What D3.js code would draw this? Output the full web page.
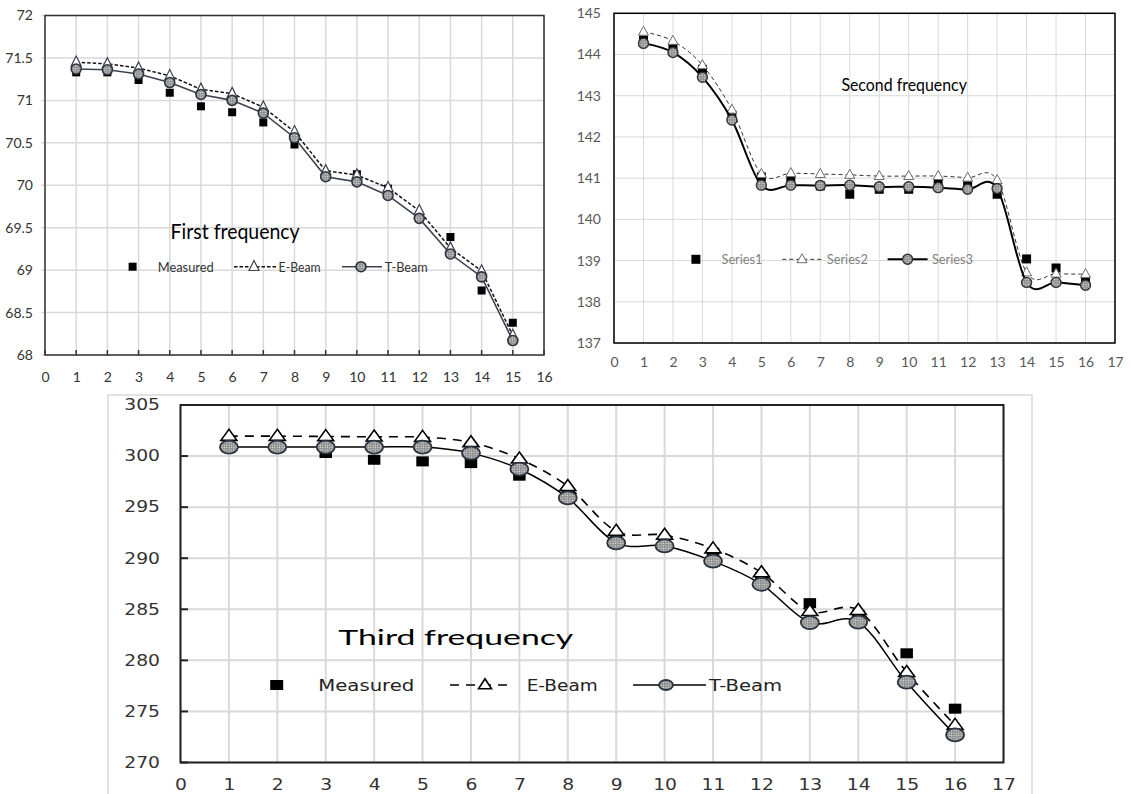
<!DOCTYPE html>
<html><head><meta charset="utf-8">
<script src="https://cdn.jsdelivr.net/npm/d3@7"></script>
<style>body{margin:0;background:#fff}</style>
</head><body>
<svg id="c" width="1131" height="794"></svg>
<script>
// ---------- DATA ----------
const first_x = [1,2,3,4,5,6,7,8,9,10,11,12,13,14,15];
const first_measured = [71.33,71.33,71.24,71.09,70.93,70.86,70.74,70.48,70.13,70.13,69.96,69.65,69.39,68.76,68.38];
const first_ebeam    = [71.45,71.43,71.38,71.29,71.13,71.08,70.92,70.63,70.17,70.12,69.97,69.70,69.26,68.99,68.23];
const first_tbeam    = [71.37,71.36,71.31,71.21,71.07,71.00,70.85,70.56,70.10,70.04,69.88,69.61,69.19,68.92,68.17];
const first_xticks = [0,1,2,3,4,5,6,7,8,9,10,11,12,13,14,15,16];
const first_yticks = [68,68.5,69,69.5,70,70.5,71,71.5,72];
const first_labels = ["Measured","E-Beam","T-Beam"];

const second_x = [1,2,3,4,5,6,7,8,9,10,11,12,13,14,15,16];
const second_series1 = [144.35,144.15,143.64,142.53,141.03,140.93,140.81,140.61,140.73,140.73,140.85,140.83,140.61,139.04,138.82,138.53];
const second_series2 = [144.55,144.33,143.74,142.66,141.10,141.12,141.10,141.08,141.05,141.05,141.05,141.01,140.95,138.71,138.68,138.67];
const second_series3 = [144.27,144.05,143.45,142.41,140.83,140.83,140.82,140.83,140.79,140.79,140.77,140.73,140.75,138.47,138.47,138.40];
const second_xticks = [0,1,2,3,4,5,6,7,8,9,10,11,12,13,14,15,16,17];
const second_yticks = [137,138,139,140,141,142,143,144,145];
const second_labels = ["Series1","Series2","Series3"];

const third_x = [1,2,3,4,5,6,7,8,9,10,11,12,13,14,15,16];
const third_measured = [300.8,300.8,300.3,299.64,299.48,299.31,298.08,296.32,291.84,291.35,290.54,288.16,285.6,284.46,280.69,275.27];
const third_ebeam    = [301.95,301.95,301.92,301.88,301.85,301.33,299.73,297.04,292.65,292.26,290.93,288.59,284.8,284.9,278.83,273.65];
const third_tbeam    = [300.88,300.88,300.88,300.88,300.88,300.29,298.73,295.9,291.5,291.2,289.72,287.45,283.7,283.75,277.86,272.7];
const third_xticks = [0,1,2,3,4,5,6,7,8,9,10,11,12,13,14,15,16,17];
const third_yticks = [270,275,280,285,290,295,300,305];
const third_labels = ["Measured","E-Beam","T-Beam"];

// ---------- DRAWING ----------
const svg = d3.select("#c");
svg.append("rect").attr("width",1131).attr("height",794).attr("fill","#fff");

const defs = svg.append("defs");
const pat = defs.append("pattern").attr("id","hatch").attr("patternUnits","userSpaceOnUse")
  .attr("width",2.4).attr("height",2.4);
pat.append("rect").attr("width",2.4).attr("height",2.4).attr("fill","#8e8e8e");
pat.append("rect").attr("x",0.6).attr("y",0.6).attr("width",1.1).attr("height",1.1).attr("fill","#e6e6e6");

const CAL = "Lato, 'Open Sans', sans-serif";
const VER = "'DejaVu Sans', Verdana, sans-serif";

function triPath(w,h){ return `M0,${-h*0.62}L${w/2},${h*0.38}L${-w/2},${h*0.38}Z`; }

function panel(c){
  const g = svg.append("g");
  const x = d3.scaleLinear().domain(c.xdom).range(c.xr);
  const y = d3.scaleLinear().domain(c.ydom).range(c.yr);
  // grid
  g.append("g").selectAll("line").data(c.xticks).join("line")
    .attr("x1",d=>x(d)).attr("x2",d=>x(d)).attr("y1",c.yr[0]).attr("y2",c.yr[1])
    .attr("stroke",c.grid).attr("stroke-width",c.gridW);
  g.append("g").selectAll("line").data(c.yticks).join("line")
    .attr("x1",c.xr[0]-(c.ytickOut||0)).attr("x2",c.xr[1]).attr("y1",d=>y(d)).attr("y2",d=>y(d))
    .attr("stroke",c.grid).attr("stroke-width",c.gridW);
  // frame
  g.append("rect").attr("x",c.xr[0]).attr("y",c.yr[1]).attr("width",c.xr[1]-c.xr[0]).attr("height",c.yr[0]-c.yr[1])
    .attr("fill","none").attr("stroke",c.frame).attr("stroke-width",c.frameW);
  // inward ticks
  if(c.xtickIn){
    g.append("g").selectAll("line").data(c.xticks).join("line")
      .attr("x1",d=>x(d)).attr("x2",d=>x(d)).attr("y1",c.yr[0]).attr("y2",c.yr[0]-c.xtickIn)
      .attr("stroke",c.frame).attr("stroke-width",c.frameW);
  }
  if(c.ytickIn){
    g.append("g").selectAll("line").data(c.yticks).join("line")
      .attr("x1",c.xr[0]).attr("x2",c.xr[0]+c.ytickIn).attr("y1",d=>y(d)).attr("y2",d=>y(d))
      .attr("stroke",c.frame).attr("stroke-width",c.frameW);
  }
  // axes
  const ax = g.append("g").attr("transform",`translate(0,${c.yr[0]})`)
    .call(d3.axisBottom(x).tickValues(c.xticks).tickSize(0).tickPadding(c.xpad).tickFormat(d=>String(d)));
  const ay = g.append("g").attr("transform",`translate(${c.xr[0]},0)`)
    .call(d3.axisLeft(y).tickValues(c.yticks).tickSize(0).tickPadding(c.ypad).tickFormat(d=>String(d)));
  [ax,ay].forEach(a=>{
    a.select(".domain").remove();
    a.selectAll("text").attr("font-family",c.tickFont).attr("font-size",c.tickSize).attr("fill",c.tickColor);
    if(c.stretch) a.selectAll("text").attr("transform",`scale(${c.stretch},1)`);
  });
  const pts = (xs,ys)=>xs.map((d,i)=>[x(d),y(ys[i])]);
  const line = d3.line().curve(c.curve);
  // series 1: squares
  const s1 = pts(c.xs,c.s1);
  g.append("g").selectAll("rect").data(s1).join("rect")
    .attr("x",d=>d[0]-c.sq[0]/2).attr("y",d=>d[1]-c.sq[1]/2).attr("width",c.sq[0]).attr("height",c.sq[1]).attr("fill","#000");
  // series 2: dashed + triangles
  const s2 = pts(c.xs,c.s2);
  g.append("path").attr("d",line(s2)).attr("fill","none").attr("stroke",c.l2).attr("stroke-width",c.l2w).attr("stroke-dasharray",c.dash);
  g.append("g").selectAll("path").data(s2).join("path")
    .attr("d",triPath(c.tri[0],c.tri[1])).attr("transform",d=>`translate(${d[0]},${d[1]})`)
    .attr("fill","#fff").attr("stroke",c.triStroke).attr("stroke-width",c.triW);
  // series 3: solid + hatched circles
  const s3 = pts(c.xs,c.s3);
  g.append("path").attr("d",line(s3)).attr("fill","none").attr("stroke",c.l3).attr("stroke-width",c.l3w);
  g.append("g").selectAll("ellipse").data(s3).join("ellipse")
    .attr("cx",d=>d[0]).attr("cy",d=>d[1]).attr("rx",c.circ[0]).attr("ry",c.circ[1])
    .attr("fill","url(#hatch)").attr("stroke",c.circStroke).attr("stroke-width",c.circW);
  // title
  g.append("text").attr("x",c.title.x).attr("y",c.title.y).text(c.title.text)
    .attr("font-family",CAL).attr("font-size",c.title.size).attr("fill","#000")
    .attr("textLength",c.title.w).attr("lengthAdjust","spacingAndGlyphs");
  // legend
  const L = c.leg;
  const lsq = L.sq || c.sq, ltri = L.tri || c.tri, lcirc = L.circ || c.circ;
  g.append("rect").attr("x",L.sqx-lsq[0]/2).attr("y",L.y-lsq[1]/2).attr("width",lsq[0]).attr("height",lsq[1]).attr("fill","#000");
  g.append("line").attr("x1",L.l2[0]).attr("x2",L.l2[1]).attr("y1",L.y).attr("y2",L.y)
    .attr("stroke",c.l2).attr("stroke-width",c.l2w).attr("stroke-dasharray",c.dash);
  g.append("path").attr("d",triPath(ltri[0],ltri[1])).attr("transform",`translate(${L.l2m},${L.y})`)
    .attr("fill","#fff").attr("stroke",c.triStroke).attr("stroke-width",c.triW);
  g.append("line").attr("x1",L.l3[0]).attr("x2",L.l3[1]).attr("y1",L.y).attr("y2",L.y)
    .attr("stroke",c.l3).attr("stroke-width",c.l3w);
  g.append("ellipse").attr("cx",L.l3m).attr("cy",L.y).attr("rx",lcirc[0]).attr("ry",lcirc[1])
    .attr("fill","url(#hatch)").attr("stroke",c.circStroke).attr("stroke-width",c.circW);
  L.texts.forEach((t,i)=>{
    g.append("text").attr("x",t[0]).attr("y",L.y+L.base).text(c.labels[i])
      .attr("font-family",L.font).attr("font-size",L.size).attr("fill",L.color)
      .attr("textLength",t[1]).attr("lengthAdjust","spacingAndGlyphs");
  });
}

// outer light border of the third chart
svg.append("rect").attr("x",108).attr("y",395).attr("width",924).attr("height",430)
  .attr("fill","none").attr("stroke","#d9d9d9").attr("stroke-width",1.5);

panel({
  xs:first_x, s1:first_measured, s2:first_ebeam, s3:first_tbeam, labels:first_labels,
  xdom:[0,16], ydom:[68,72], xr:[45,544], yr:[355,15.5],
  xticks:first_xticks, yticks:first_yticks,
  grid:"#d9d9d9", gridW:1.5, frame:"#333", frameW:1.5, xtickIn:5, ytickOut:4,
  xpad:16.8, ypad:12, tickFont:CAL, tickSize:14, tickColor:"#333",
  curve:d3.curveLinear,
  sq:[8,8], tri:[10,10], triStroke:"#3c4350", triW:1.2, circ:[5,5], circStroke:"#2e3540", circW:1.6,
  l2:"#111", l2w:1.5, dash:"3.5,2", l3:"#3c4350", l3w:1.6,
  title:{text:"First frequency", x:170.6, y:239, size:21, w:129},
  leg:{y:266.7, base:4.8, sqx:132.6, l2:[234,277], l2m:254, l3:[342,382], l3m:361,
       texts:[[157.7,56],[278.6,42],[384.8,43]], font:CAL, size:14, color:"#333"}
});

panel({
  xs:second_x, s1:second_series1, s2:second_series2, s3:second_series3, labels:second_labels,
  xdom:[0,17], ydom:[137,145], xr:[614,1115], yr:[343,13.3],
  xticks:second_xticks, yticks:second_yticks,
  grid:"#d9d9d9", gridW:1, frame:"#000", frameW:1.5,
  xpad:13.8, ypad:13, tickFont:CAL, tickSize:14, tickColor:"#595959",
  curve:d3.curveCatmullRom.alpha(0),
  sq:[9,9], tri:[10,9], triStroke:"#6b6b6b", triW:1, circ:[5,5], circStroke:"#333", circW:1.4,
  l2:"#333", l2w:1, dash:"4,3", l3:"#000", l3w:2,
  title:{text:"Second frequency", x:841.4, y:90.7, size:16.5, w:125.5},
  leg:{y:259.3, base:4.5, sqx:695.9, l2:[782.3,821.4], l2m:802, l3:[887.6,927.6], l3m:907.6,
       texts:[[721.5,41],[826.8,41],[931.9,41]], font:CAL, size:13, color:"#7f7f7f"}
});

panel({
  xs:third_x, s1:third_measured, s2:third_ebeam, s3:third_tbeam, labels:third_labels,
  xdom:[0,17], ydom:[270,305], xr:[180.5,1003.5], yr:[762.5,405],
  xticks:third_xticks, yticks:third_yticks,
  grid:"#d9d9d9", gridW:2, frame:"#222", frameW:2, ytickIn:7.5,
  xpad:17.3, ypad:16.4, tickFont:VER, tickSize:15, tickColor:"#333", stretch:1.25,
  curve:d3.curveCatmullRom.alpha(0),
  sq:[12.5,10], tri:[16,11], triStroke:"#000", triW:1.6, circ:[9,6.5], circStroke:"#2b3340", circW:1.8,
  l2:"#000", l2w:1.6, dash:"9,7", l3:"#000", l3w:1.5,
  title:{text:"Third frequency", x:338.3, y:645, size:22, w:235},
  leg:{y:685, base:6, sqx:276.7, l2:[450,513], l2m:485, l3:[633,706], l3m:666,
       sq:[13,10], tri:[13,10], circ:[7,5],
       texts:[[318.3,96],[526.7,71],[709,73]], font:VER, size:16, color:"#222"}
});
</script>
</body></html>
